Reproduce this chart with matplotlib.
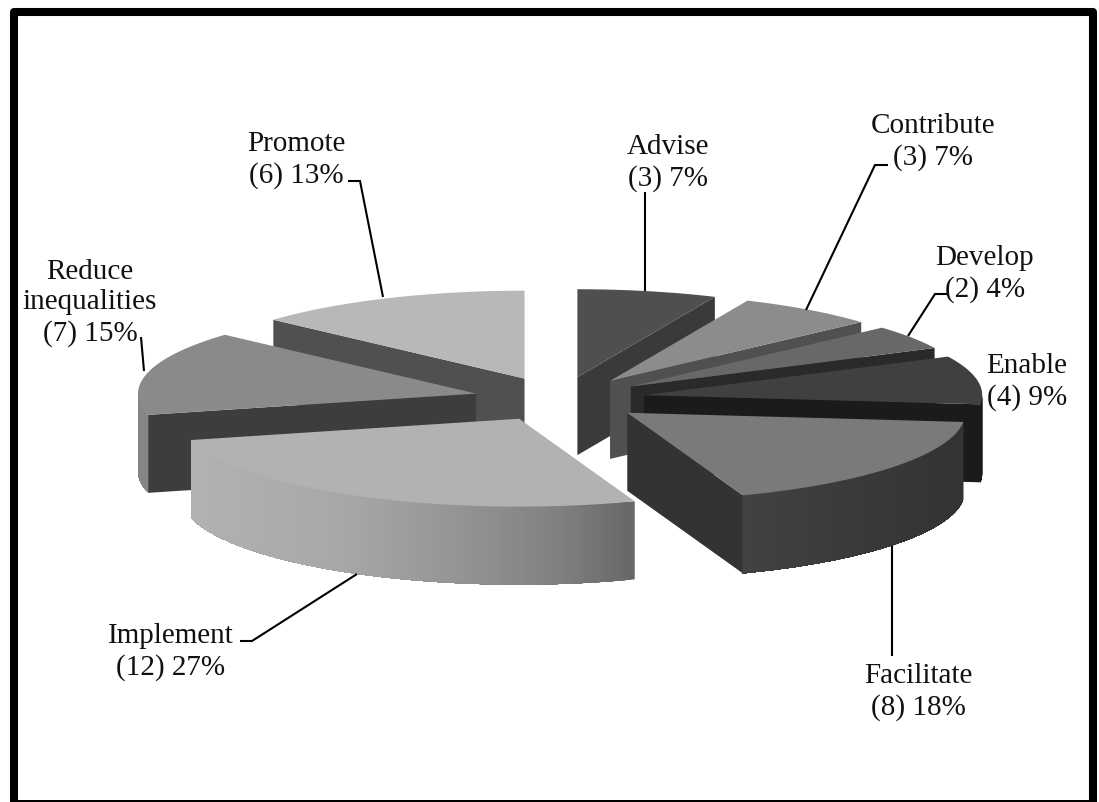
import numpy as np
import matplotlib
matplotlib.use("Agg")
import matplotlib.pyplot as plt
from matplotlib.patches import Polygon, Rectangle

# ---- data (clockwise from 12 o'clock) ----
categories = ["Advise", "Contribute", "Develop", "Enable", "Facilitate",
              "Implement", "Reduce\ninequalities", "Promote"]
counts = [3, 3, 2, 4, 8, 12, 7, 6]
percents = [7, 7, 4, 9, 18, 27, 15, 13]

# ---- styles ----
top_grey = [0x4f, 0x8c, 0x68, 0x40, 0x7a, 0xb2, 0x8a, 0xb8]
cut_grey = [0x3a, 0x50, 0x2a, 0x1b, 0x33, 0x60, 0x3d, 0x50]
# outer wall grey as (screen x, grey) stops relative to the wedge
rim_stops = [[(0, 0x3a)], [(0, 0x50)], [(0, 0x2a)], [(0, 0x1b)],
             [(743, 0x42), (850, 0x3a), (963, 0x33)],
             [(187, 0xb2), (340, 0xa8), (450, 0x96), (560, 0x80), (636, 0x66)],
             [(0, 0x85)], [(0, 0x80)]]
draw_order = [7, 0, 1, 2, 3, 6, 4, 5]

CX, CY = 559.5, 399.0
RADIUS, TILT, EXPLODE, DEPTH = 338.0, 0.26, 86.0, 78.0

label_pos = [(668, 160), (933, 139), (985, 271), (1027, 379),
             (918, 689), (171, 649), (90, 300), (296, 157)]
leaders = [[(645, 291), (645, 192)],
           [(806, 310), (875, 165), (888, 165)],
           [(908, 336), (935, 294), (947, 294)],
           None,
           [(892, 546), (892, 656)],
           [(357, 574), (252, 641), (240, 641)],
           [(144, 371), (141, 337)],
           [(383, 297), (360, 181), (348, 181)]]


def g(v):
    return (v / 255, v / 255, v / 255)


fig = plt.figure(figsize=(10.99, 8.02), dpi=100, facecolor="white")
ax = fig.add_axes([0, 0, 1, 1])
ax.set_xlim(0, 1099)
ax.set_ylim(802, 0)
ax.axis("off")

total = sum(counts)
edges = np.concatenate([[0], np.cumsum(counts)]) / total * 2 * np.pi


def point(ax0, ay0, th, r=RADIUS):
    return ax0 + r * np.sin(th), ay0 - r * TILT * np.cos(th)


for rank, i in enumerate(draw_order):
    z = 2 + rank * 0.1
    t0, t1 = edges[i], edges[i + 1]
    mid = (t0 + t1) / 2
    ax0, ay0 = point(CX, CY, mid, EXPLODE)
    ths = np.linspace(t0, t1, 160)
    xs, ys = point(ax0, ay0, ths)

    # radial cut faces turned towards the viewer
    for th, visible in ((t0, np.sin(t0) < -1e-6), (t1, np.sin(t1) > 1e-6)):
        if visible:
            ex, ey = point(ax0, ay0, th)
            ax.add_patch(Polygon([(ax0, ay0), (ex, ey), (ex, ey + DEPTH), (ax0, ay0 + DEPTH)],
                                 closed=True, fc=g(cut_grey[i]), ec="none", zorder=z))

    # outer wall on the front half; each band overlaps the rest so no seams show
    front = (ths >= np.pi / 2) & (ths <= 3 * np.pi / 2)
    fx, fy = xs[front], ys[front]
    stops = rim_stops[i]
    sx = [s[0] for s in stops]
    sv = [s[1] for s in stops]
    for k in range(len(fx) - 1):
        v = np.interp((fx[k] + fx[k + 1]) / 2, sx, sv)
        wall = np.vstack([np.column_stack([fx[k:], fy[k:]]),
                          np.column_stack([fx[k:], fy[k:] + DEPTH])[::-1]])
        ax.add_patch(Polygon(wall, closed=True, fc=g(v), ec="none", zorder=z))

    # top face
    ax.add_patch(Polygon(np.column_stack([np.r_[ax0, xs], np.r_[ay0, ys]]),
                         closed=True, fc=g(top_grey[i]), ec="none", zorder=z))

# labels
for name, n, pc, (x, y) in zip(categories, counts, percents, label_pos):
    ax.text(x, y + 3, f"{name}\n({n}) {pc}%", ha="center", va="center",
            family=["Liberation Serif", "DejaVu Serif"], fontsize=21,
            linespacing=1.2, color="#111111", zorder=5)

for seg in leaders:
    if seg:
        ax.plot(*zip(*seg), color="black", lw=1.5, solid_capstyle="butt",
                solid_joinstyle="miter", zorder=4)

# frame: three stroked sides plus a filled bottom strip cut by the image edge
ax.plot([13.6, 13.6, 1093.4, 1093.4], [802, 12, 12, 802], color="black", lw=5.8,
        solid_joinstyle="round", solid_capstyle="butt", zorder=6)
ax.add_patch(Rectangle((10, 800), 1087, 3, fc="black", ec="none", zorder=6))

fig.savefig("out.png", dpi=100, facecolor="white")
